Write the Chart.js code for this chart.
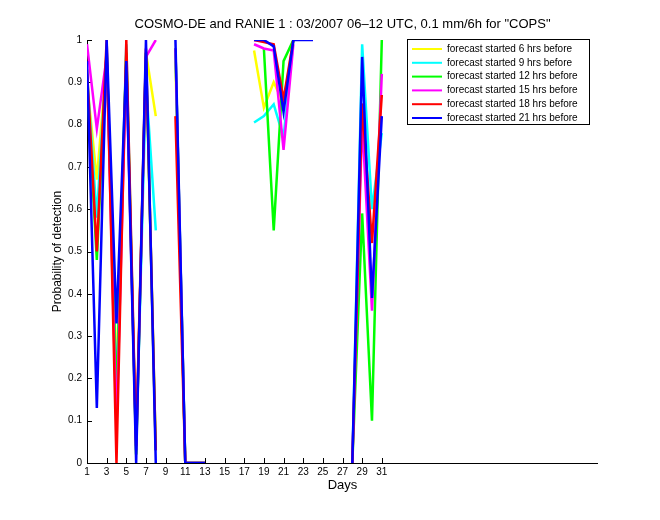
<!DOCTYPE html>
<html>
<head>
<meta charset="utf-8">
<script src="https://cdn.jsdelivr.net/npm/chart.js@4"></script>
<style>
  body { margin: 0; background: #fff; }
  canvas { display: block; }
</style>
</head>
<body>
<canvas id="myChart" width="660" height="520"></canvas>
<script>
// days of March 2007
const days = [1,2,3,4,5,6,7,8,9,10,11,12,13,14,15,16,17,18,19,20,21,22,23,24,25,26,27,28,29,30,31];
const xTicks = [1,3,5,7,9,11,13,15,17,19,21,23,25,27,29,31];

// probability of detection per forecast start (null = no data)
const pod6h  = [0.90,0.67,0.95,0.20,0.97,0.02,0.97,0.82,null,0.95,0,0,0,null,null,null,null,0.975,0.84,0.90,0.85,1.0,null,null,null,null,null,null,null,null,null];
const pod9h  = [0.92,0.58,0.97,0.16,0.99,0.03,0.90,0.55,null,0.98,0,0,0,null,null,null,null,0.805,0.82,0.848,0.77,1.0,null,null,null,null,null,0,0.99,0.60,0.78];
const pod12h = [0.90,0.48,0.98,0.15,0.97,0.02,0.97,0.03,null,0.98,0,0,0,null,null,null,null,null,0.98,0.55,0.95,1.0,null,null,null,null,null,0,0.59,0.10,1.0];
const pod15h = [0.99,0.79,0.96,0.08,0.95,0.03,0.96,1.0,null,0.98,0,0,0,null,null,null,null,0.99,0.98,0.975,0.74,0.99,null,null,null,null,null,0,0.81,0.36,0.92];
const pod18h = [0.93,0.50,1.0,0.0,1.0,0.04,0.98,0.03,null,0.82,0,0,0,null,null,null,null,1.0,0.995,0.99,0.86,1.0,null,null,null,null,null,0,0.85,0.52,0.87];
const pod21h = [0.95,0.13,1.0,0.33,0.95,0.0,1.0,0.0,null,1.0,0,0,0,null,null,null,null,1.0,1.0,0.985,0.83,1.0,1.0,1.0,null,null,null,0,0.96,0.39,0.82];

const seriesNames = [
  'forecast started 6 hrs before',
  'forecast started 9 hrs before',
  'forecast started 12 hrs before',
  'forecast started 15 hrs before',
  'forecast started 18 hrs before',
  'forecast started 21 hrs before'
];
const seriesColors = ['#ffff00', '#00ffff', '#00ff00', '#ff00ff', '#ff0000', '#0000ff'];
const seriesData = [pod6h, pod9h, pod12h, pod15h, pod18h, pod21h];

const FONT = 'Helvetica, "Liberation Sans", Arial, sans-serif';

// axes lines and inward ticks, MATLAB style
const axesPlugin = {
  id: 'axesPlugin',
  beforeDatasetsDraw(chart) {
    const ctx = chart.ctx;
    const a = chart.chartArea;
    const xs = chart.scales.x, ys = chart.scales.y;
    ctx.save();
    ctx.strokeStyle = '#000';
    ctx.lineWidth = 1;
    ctx.beginPath();
    ctx.moveTo(a.left + 0.5, a.top);
    ctx.lineTo(a.left + 0.5, a.bottom + 0.5);
    ctx.lineTo(a.right, a.bottom + 0.5);
    ys.ticks.forEach(t => {
      const y = Math.round(ys.getPixelForValue(t.value)) + 0.5;
      ctx.moveTo(a.left, y);
      ctx.lineTo(a.left + 5, y);
    });
    xs.ticks.forEach(t => {
      const x = Math.round(xs.getPixelForValue(t.value)) + 0.5;
      ctx.moveTo(x, a.bottom);
      ctx.lineTo(x, a.bottom - 5);
    });
    ctx.stroke();
    ctx.restore();
  },
  afterDraw(chart) {
    const ctx = chart.ctx;
    const a = chart.chartArea;
    ctx.save();
    ctx.fillStyle = '#000';
    // title
    ctx.font = '13px ' + FONT;
    ctx.textAlign = 'center';
    ctx.textBaseline = 'middle';
    ctx.fillText('COSMO-DE and RANIE 1 : 03/2007 06\u201312 UTC, 0.1 mm/6h for "COPS"', (a.left + a.right) / 2, 24);
    // axis titles
    ctx.fillText('Days', (a.left + a.right) / 2, 485);
    ctx.font = '12px ' + FONT;
    ctx.save();
    ctx.translate(58, (a.top + a.bottom) / 2);
    ctx.rotate(-Math.PI / 2);
    ctx.fillText('Probability of detection', 0, 0);
    ctx.restore();

    // legend box
    const lx = 407, ly = 39, lw = 182, lh = 85;
    ctx.fillStyle = '#fff';
    ctx.fillRect(lx, ly, lw, lh);
    ctx.strokeStyle = '#000';
    ctx.lineWidth = 1;
    ctx.strokeRect(lx + 0.5, ly + 0.5, lw, lh);
    ctx.font = '10px ' + FONT;
    ctx.textAlign = 'left';
    chart.data.datasets.forEach((ds, i) => {
      const y = ly + 10 + i * 13.8;
      ctx.strokeStyle = ds.borderColor;
      ctx.lineWidth = 2;
      ctx.beginPath();
      ctx.moveTo(lx + 5, y);
      ctx.lineTo(lx + 35, y);
      ctx.stroke();
      ctx.fillStyle = '#000';
      ctx.fillText(ds.label, lx + 40, y);
    });
    ctx.restore();
  }
};

const ctx = document.getElementById('myChart').getContext('2d');
new Chart(ctx, {
  type: 'line',
  data: {
    datasets: seriesData.map((vals, i) => ({
      label: seriesNames[i],
      data: days.map((d, k) => ({ x: d, y: vals[k] })),
      borderColor: seriesColors[i],
      backgroundColor: seriesColors[i],
      borderWidth: 2.5,
      pointRadius: 0,
      tension: 0,
      spanGaps: false,
      order: seriesData.length - i
    }))
  },
  options: {
    responsive: false,
    animation: false,
    layout: { padding: { left: 0, top: 40, right: 62, bottom: 0 } },
    plugins: {
      legend: { display: false },
      title: { display: false },
      tooltip: { enabled: false }
    },
    scales: {
      x: {
        type: 'linear',
        min: 1,
        max: 53,
        afterBuildTicks: scale => { scale.ticks = xTicks.map(v => ({ value: v })); },
        afterFit: scale => { scale.height = 57; },
        grid: { display: false, drawTicks: false, tickLength: 0 },
        border: { display: false },
        ticks: { color: '#000', font: { family: FONT, size: 10 }, padding: 3, maxRotation: 0, autoSkip: false }
      },
      y: {
        min: 0,
        max: 1,
        afterFit: scale => { scale.width = 87; },
        grid: { display: false, drawTicks: false, tickLength: 0 },
        border: { display: false },
        ticks: {
          stepSize: 0.1,
          color: '#000',
          font: { family: FONT, size: 10 },
          padding: 5,
          callback: v => String(Number(v.toFixed(1)))
        }
      }
    }
  },
  plugins: [axesPlugin]
});
</script>
</body>
</html>
